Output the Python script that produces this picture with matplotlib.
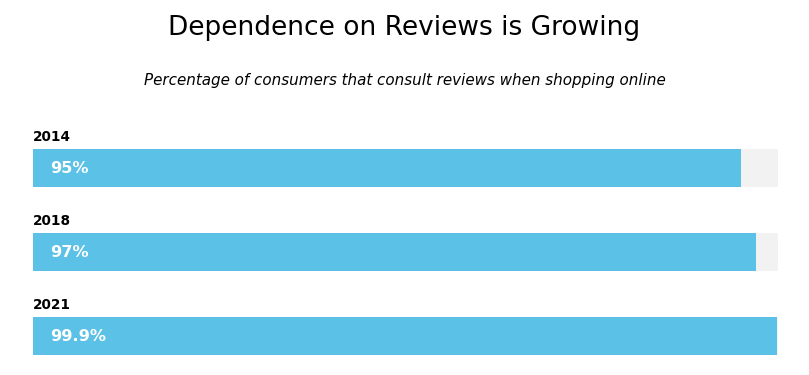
import matplotlib
matplotlib.use("Agg")
import matplotlib.pyplot as plt

# data
years = ["2014", "2018", "2021"]
shares = [95, 97, 99.9]
value_labels = ["95%", "97%", "99.9%"]

BLUE = "#5bc1e6"
TRACK = "#f2f2f2"

W, H = 809, 375
fig = plt.figure(figsize=(W / 100, H / 100), dpi=100)

# axes spans the bar area in pixel terms: x 33..778, y 149..355
ax = fig.add_axes([33 / W, (H - 355) / H, 745 / W, 206 / H])
half = 19 / 84
ax.set_xlim(0, 100)
ax.set_ylim(len(years) - 1 + half, -half)
ax.axis("off")

pos = list(range(len(years)))
ax.barh(pos, [100] * len(years), height=2 * half, color=TRACK, zorder=1)
ax.barh(pos, shares, height=2 * half, color=BLUE, zorder=2)

for i, (yr, lab) in enumerate(zip(years, value_labels)):
    ax.text(0, i - half - 12 / 84, yr, fontsize=9.8, fontweight="bold",
            ha="left", va="center", color="black", clip_on=False)
    ax.text(2.3, i + 0.01, lab, fontsize=11.6, fontweight="bold",
            ha="left", va="center", color="white", zorder=3)

fig.text(0.5, 1 - 28 / H, "Dependence on Reviews is Growing",
         fontsize=19, ha="center", va="center", color="black")
fig.text(0.5, 1 - 80 / H,
         "Percentage of consumers that consult reviews when shopping online",
         fontsize=10.9, style="italic", ha="center", va="center", color="black")

fig.savefig("out.png", dpi=100)
